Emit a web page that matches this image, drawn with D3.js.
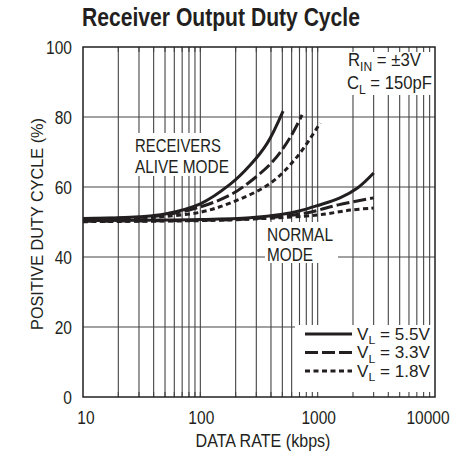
<!DOCTYPE html>
<html>
<head>
<meta charset="utf-8">
<title>Receiver Output Duty Cycle</title>
<script src="https://d3js.org/d3.v7.min.js"></script>
<style>
  body { margin: 0; background: #fff; }
  text { font-family: "Liberation Sans", Arial, sans-serif; fill: #231f20; }
</style>
</head>
<body>
<script>
  // axis ticks
  const xTicks = [10, 100, 1000, 10000];
  const yTicks = [0, 20, 40, 60, 80, 100];
  const yGrid = [20, 40, 60, 80];
  const legendLabels = ['5.5V', '3.3V', '1.8V'];

  // receivers alive mode
  const aliveRate55 = [10, 20, 30, 50, 100, 180, 265, 370, 507];
  const aliveDuty55 = [51, 51.2, 51.5, 52.3, 55.2, 60.8, 66.2, 72.4, 81.7];
  const aliveRate33 = [10, 30, 50, 100, 179, 265, 417, 582, 736];
  const aliveDuty33 = [50.9, 51.3, 52, 54.3, 57.7, 61.5, 67.4, 74.1, 80.6];
  const aliveRate18 = [10, 30, 50, 100, 179, 393, 667, 1050];
  const aliveDuty18 = [50.7, 51, 51.6, 52.8, 55.4, 61, 68.6, 78.3];

  // normal mode
  const normRate55 = [10, 100, 265, 500, 708, 1000, 1550, 2200, 3000];
  const normDuty55 = [50.4, 50.7, 51.2, 52.2, 53.2, 54.7, 56.9, 59.8, 64];
  const normRate33 = [10, 100, 300, 800, 1500, 3000];
  const normDuty33 = [50.2, 50.5, 51, 52.6, 54.9, 56.9];
  const normRate18 = [10, 100, 300, 1000, 1900, 3000];
  const normDuty18 = [50.1, 50.4, 50.9, 52, 53.4, 54];

  const W = 468, H = 458;
  const m = { left: 83, top: 47, right: 435, bottom: 397 };

  const svg = d3.select('body').append('svg')
    .attr('width', W)
    .attr('height', H);

  const x = d3.scaleLog().domain([10, 10000]).range([m.left, m.right]);
  const y = d3.scaleLinear().domain([0, 100]).range([m.bottom, m.top]);

  // text is squeezed horizontally to look like the condensed face of the original
  const NARROW = 0.84;
  const put = (t, px, py, sx, rot) => {
    t.attr('transform', `translate(${px},${py})` + (rot ? ` rotate(${rot})` : '') + ` scale(${sx},1)`);
    return t;
  };
  const fit = (t, px, py, w, rot) => put(t, px, py, w / t.node().getComputedTextLength(), rot);

  // title
  const title = svg.append('text')
    .attr('text-anchor', 'middle')
    .style('font-size', '26px').style('font-weight', 'bold')
    .text('Receiver Output Duty Cycle');
  fit(title, 221, 26, 278);

  // grid
  const vLines = [];
  for (let d = 10; d < 10000; d *= 10) {
    for (let k = 2; k <= 10; k++) vLines.push(d * k);
  }
  vLines.pop(); // 10000 is the frame

  const grid = svg.append('g').attr('stroke', '#444').attr('stroke-width', 1.1);
  grid.selectAll('line.v').data(vLines).enter().append('line')
    .attr('class', 'v')
    .attr('x1', d => x(d)).attr('x2', d => x(d))
    .attr('y1', m.top).attr('y2', m.bottom);
  grid.selectAll('line.h').data(yGrid).enter().append('line')
    .attr('class', 'h')
    .attr('x1', m.left).attr('x2', m.right)
    .attr('y1', d => y(d)).attr('y2', d => y(d));

  // white label boxes over the grid
  const boxes = [
    [130, 133, 102, 43],   // receivers alive mode
    [265, 222, 73, 41],    // normal mode
    [340, 47, 95, 48],     // conditions
    [295, 325, 140, 72]    // legend
  ];
  svg.selectAll('rect.box').data(boxes).enter().append('rect')
    .attr('class', 'box')
    .attr('x', d => d[0]).attr('y', d => d[1])
    .attr('width', d => d[2]).attr('height', d => d[3])
    .attr('fill', '#fff');

  // short ticks at top and bottom edges
  const ticks = svg.append('g').attr('stroke', '#444').attr('stroke-width', 1.1);
  ticks.selectAll('line.b').data(vLines).enter().append('line')
    .attr('x1', d => x(d)).attr('x2', d => x(d))
    .attr('y1', m.bottom).attr('y2', m.bottom - 5);
  ticks.selectAll('line.t').data(vLines).enter().append('line')
    .attr('x1', d => x(d)).attr('x2', d => x(d))
    .attr('y1', m.top).attr('y2', m.top + 5);

  // frame
  svg.append('rect')
    .attr('x', m.left).attr('y', m.top)
    .attr('width', m.right - m.left).attr('height', m.bottom - m.top)
    .attr('fill', 'none').attr('stroke', '#231f20').attr('stroke-width', 1.5);

  // curves
  const line = d3.line()
    .x(d => x(d[0]))
    .y(d => y(d[1]))
    .curve(d3.curveCatmullRom.alpha(0.5));

  const dashes = [null, '13,4', '5,3.5'];
  const curves = [
    [aliveRate55, aliveDuty55, 0],
    [aliveRate33, aliveDuty33, 1],
    [aliveRate18, aliveDuty18, 2],
    [normRate55, normDuty55, 0],
    [normRate33, normDuty33, 1],
    [normRate18, normDuty18, 2]
  ];
  svg.selectAll('path.curve').data(curves).enter().append('path')
    .attr('class', 'curve')
    .attr('d', c => line(d3.zip(c[0], c[1])))
    .attr('fill', 'none')
    .attr('stroke', '#231f20')
    .attr('stroke-width', 3)
    .attr('stroke-dasharray', c => dashes[c[2]]);

  // axis labels
  xTicks.forEach(d => {
    const t = svg.append('text')
      .attr('text-anchor', 'middle')
      .style('font-size', '18.5px')
      .text(d);
    put(t, d === 10000 ? 428 : x(d) + (d === 10 ? 3 : 1), 424, NARROW);
  });

  yTicks.forEach(d => {
    const t = svg.append('text')
      .attr('text-anchor', 'end')
      .style('font-size', '18.5px')
      .text(d);
    put(t, 72, y(d) + 6.5, NARROW);
  });

  const xTitle = svg.append('text')
    .attr('text-anchor', 'middle')
    .style('font-size', '18.5px')
    .text('DATA RATE (kbps)');
  fit(xTitle, 263, 447, 135);

  const yTitle = svg.append('text')
    .attr('text-anchor', 'middle')
    .style('font-size', '17px')
    .text('POSITIVE DUTY CYCLE (%)');
  fit(yTitle, 42.5, 224, 212, -90);

  // annotations
  const note = (lines, x0, y0, widths) => {
    lines.forEach((s, i) => {
      const t = svg.append('text')
        .style('font-size', '19px')
        .text(s);
      fit(t, x0, y0 + i * 20.5, widths[i]);
    });
  };
  note(['RECEIVERS', 'ALIVE MODE'], 135, 152, [86, 94]);
  note(['NORMAL', 'MODE'], 267, 240.5, [66, 46]);

  const subText = (x0, y0, w, size, a, sub, b) => {
    const t = svg.append('text').style('font-size', size + 'px');
    t.append('tspan').text(a);
    t.append('tspan').attr('dy', 4.5).style('font-size', (size * 0.72) + 'px').text(sub);
    t.append('tspan').attr('dy', -4.5).text(b);
    return fit(t, x0, y0, w);
  };
  subText(348, 66, 73, 18.5, 'R', 'IN', ' = \u00b13V');
  subText(347, 89, 85, 18.5, 'C', 'L', ' = 150pF');

  // legend
  legendLabels.forEach((lab, i) => {
    const ly = 334 + i * 18.5;
    svg.append('line')
      .attr('x1', 305).attr('x2', 352)
      .attr('y1', ly).attr('y2', ly)
      .attr('stroke', '#231f20').attr('stroke-width', 3)
      .attr('stroke-dasharray', dashes[i]);
    subText(357, ly + 5.5, 73, 16, 'V', 'L', ' = ' + lab);
  });
</script>
</body>
</html>
